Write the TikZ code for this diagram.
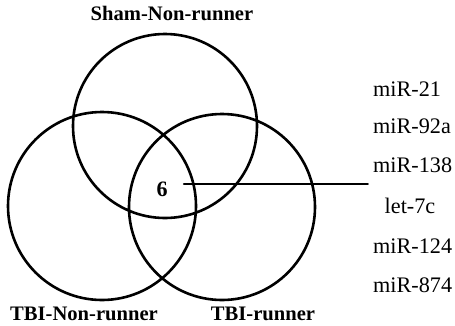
\documentclass[tikz,border=0pt]{standalone}
\usepackage{fontspec}
\setmainfont{Liberation Serif}
\begin{document}
\begin{tikzpicture}[x=1pt, y=-1pt, line join=round, line cap=round]
		\useasboundingbox (0,0) rectangle (455,325);
		\path
		(165,126) coordinate (S)
		(102,206) coordinate (T)
		(222,207) coordinate (R)
		(368,184) coordinate (L)
	;
		\draw[line width=2.6pt] (S) circle (92) (T) circle (94) (R) circle (93);
		\node[anchor=base, font=\fontsize{20.6}{21}\selectfont\bfseries] (sham) at (172,20) {Sham-Non-runner};
		\node[anchor=base, font=\fontsize{20.6}{21}\selectfont\bfseries] (tbin) at (84,320) {TBI-Non-runner};
		\node[anchor=base, font=\fontsize{20.6}{21}\selectfont\bfseries] (tbir) at (263,320) {TBI-runner};
		\node[anchor=base, font=\fontsize{22}{22}\selectfont\bfseries, inner xsep=16pt] (six) at (162,196) {6};
		\draw[line width=1.6pt] (six.east|-L)--(L);
		\foreach \m/\y [count=\i] in {miR-21/96,miR-92a/133,miR-138/172,miR-124/253,miR-874/292}\node[anchor=base west, inner sep=0pt, font=\fontsize{22.2}{22}\selectfont] (mir\i) at (373,\y) {\m};
		\node[anchor=base, inner sep=0pt, font=\fontsize{22.2}{22}\selectfont] (let) at (410,213) {let-7c};
		\end{tikzpicture}
\end{document}
